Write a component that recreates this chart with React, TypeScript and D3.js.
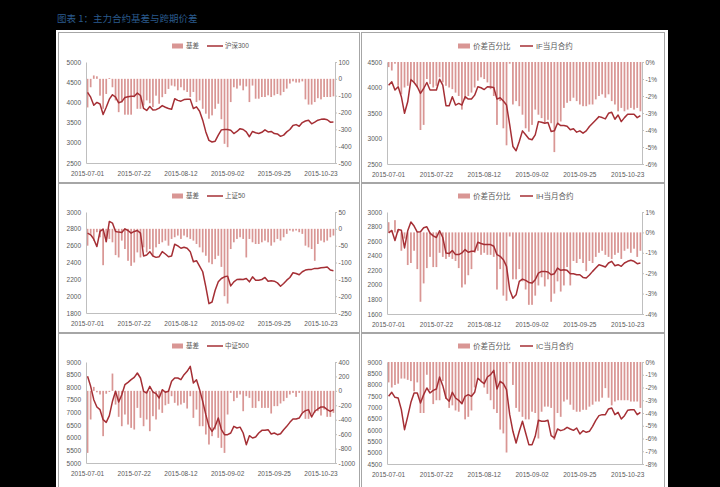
import React, { useEffect, useRef } from "react";
import * as d3 from "d3";

// trading days, 2015-07-01 .. 2015-10-29
const dates = [
  "2015-07-01", "2015-07-02", "2015-07-03", "2015-07-06", "2015-07-07", "2015-07-08", "2015-07-09", "2015-07-10",
  "2015-07-13", "2015-07-14", "2015-07-15", "2015-07-16", "2015-07-17", "2015-07-20", "2015-07-21", "2015-07-22",
  "2015-07-23", "2015-07-24", "2015-07-27", "2015-07-28", "2015-07-29", "2015-07-30", "2015-07-31",
  "2015-08-03", "2015-08-04", "2015-08-05", "2015-08-06", "2015-08-07", "2015-08-10", "2015-08-11", "2015-08-12",
  "2015-08-13", "2015-08-14", "2015-08-17", "2015-08-18", "2015-08-19", "2015-08-20", "2015-08-21", "2015-08-24",
  "2015-08-25", "2015-08-26", "2015-08-27", "2015-08-28", "2015-08-31", "2015-09-01", "2015-09-02",
  "2015-09-07", "2015-09-08", "2015-09-09", "2015-09-10", "2015-09-11", "2015-09-14", "2015-09-15", "2015-09-16",
  "2015-09-17", "2015-09-18", "2015-09-21", "2015-09-22", "2015-09-23", "2015-09-24", "2015-09-25",
  "2015-09-28", "2015-09-29", "2015-09-30", "2015-10-08", "2015-10-09", "2015-10-12", "2015-10-13", "2015-10-14",
  "2015-10-15", "2015-10-16", "2015-10-19", "2015-10-20", "2015-10-21", "2015-10-22", "2015-10-23",
  "2015-10-26", "2015-10-27", "2015-10-28", "2015-10-29",
];

const hs300 = [
  4250, 4130, 3930, 4000, 3960, 3700, 3880, 4080, 4190, 4130,
  3990, 4020, 4120, 4140, 4150, 4150, 4230, 4170, 3850, 3800,
  3900, 3810, 3820, 3860, 3920, 3880, 3850, 3830, 4090, 4050,
  4030, 4070, 4080, 4075, 3850, 3890, 3780, 3560, 3270, 3060,
  3020, 3040, 3190, 3320, 3330, 3330, 3310, 3230, 3280, 3350,
  3330, 3270, 3150, 3280, 3250, 3230, 3260, 3320, 3270, 3280,
  3230, 3220, 3160, 3190, 3270, 3330, 3430, 3450, 3410, 3500,
  3540, 3560, 3470, 3510, 3560, 3580, 3590, 3570, 3510, 3515,
];
const hs300Basis = [
  -170, -50, 20, 15, -100, -178, -90, 5, -50, -128,
  -198, -140, -213, -213, -213, -110, -178, -178, -158, -128,
  -145, -168, -100, -148, -109, -90, -60, -40, -45, -68,
  -50, -68, -78, -108, -78, -138, -128, -178, -207, -237,
  -217, -178, -148, -240, -386, -406, -138, -50, -58, -40,
  -68, -45, -138, -40, -118, -118, -108, -108, -98, -108,
  -98, -90, -98, -78, -58, -28, -15, -22, -22, -15,
  -122, -153, -153, -138, -115, -122, -108, -108, -108, -104,
];

const ifMonth = [
  4046, 4110, 3950, 4015, 3820, 3494, 3720, 4156, 4098, 4015,
  3884, 3980, 4098, 3950, 3950, 3950, 4163, 4046, 3643, 3643,
  3820, 3656, 3688, 3656, 3820, 3773, 3773, 3850, 4015, 3995,
  3960, 4015, 4010, 4000, 3773, 3800, 3734, 3656, 3266, 2844,
  2760, 2942, 3150, 3072, 2994, 2975, 3072, 3331, 3318, 3300,
  3313, 3137, 3150, 3300, 3254, 3254, 3241, 3170, 3190, 3124,
  3150, 3105, 3150, 3235, 3300, 3364, 3429, 3410, 3384, 3494,
  3513, 3377, 3461, 3331, 3409, 3474, 3474, 3474, 3409, 3448,
];
const ifSpread = [
  -0.3, -0.5, -0.1, -1.4, -1.9, -1.5, -1.4, -1.0, -1.2, -1.5,
  -4.0, -3.7, -1.0, -1.3, -1.5, -1.4, -0.9, -1.2, -1.4, -1.5,
  -1.6, -1.8, -2.0, -2.8, -2.2, -2.0, -1.8, -1.5, -1.1, -0.9,
  -1.0, -1.2, -1.6, -2.0, -3.7, -2.3, -3.9, -4.9, -0.1, -2.5,
  -2.3, -2.6, -3.1, -3.9, -4.1, -3.7, -2.8, -3.1, -3.3, -3.6,
  -3.4, -3.6, -5.3, -3.6, -3.5, -2.7, -2.4, -2.3, -2.1, -2.3,
  -2.5, -2.6, -2.6, -2.5, -2.5, -2.2, -2.0, -1.9, -2.1, -1.9,
  -2.3, -2.5, -2.9, -2.7, -2.9, -2.8, -2.7, -2.8, -2.7, -2.9,
];

const sz50 = [
  2749, 2729, 2677, 2589, 2769, 2797, 2649, 2888, 2868, 2769,
  2761, 2757, 2800, 2780, 2749, 2769, 2780, 2749, 2477, 2489,
  2529, 2477, 2461, 2469, 2529, 2501, 2469, 2477, 2617, 2597,
  2569, 2581, 2569, 2529, 2409, 2421, 2358, 2290, 2110, 1911,
  1931, 2070, 2170, 2210, 2230, 2238, 2122, 2170, 2198, 2202,
  2198, 2210, 2170, 2230, 2190, 2190, 2198, 2222, 2178, 2182,
  2178, 2158, 2118, 2150, 2190, 2222, 2278, 2270, 2254, 2290,
  2310, 2318, 2318, 2330, 2330, 2338, 2342, 2346, 2310, 2302,
];
const sz50Basis = [
  -50, -15, -35, -10, -25, -108, -40, -30, -40, -78,
  -85, -35, -60, -95, -110, -100, -70, -85, -55, -70,
  -60, -80, -55, -45, -40, -35, -50, -30, -25, -20,
  -30, -20, -25, -30, -35, -45, -55, -70, -80, -100,
  -105, -90, -80, -113, -200, -222, -60, -40, -30, -25,
  -30, -85, -30, -40, -45, -45, -40, -35, -40, -50,
  -40, -30, -35, -25, -15, -5, -8, -5, -10, -15,
  -50, -55, -60, -95, -45, -35, -40, -35, -25, -20,
];

const ihMonth = [
  2714, 2747, 2609, 2760, 2751, 2507, 2742, 2862, 2807, 2724,
  2728, 2783, 2797, 2710, 2673, 2650, 2742, 2650, 2438, 2429,
  2471, 2415, 2415, 2438, 2484, 2447, 2461, 2461, 2585, 2567,
  2553, 2553, 2553, 2530, 2415, 2392, 2346, 2254, 1932, 1817,
  1863, 2047, 2079, 2061, 2033, 2024, 2070, 2162, 2185, 2185,
  2176, 2139, 2153, 2231, 2199, 2208, 2199, 2153, 2153, 2139,
  2139, 2102, 2093, 2135, 2185, 2231, 2277, 2263, 2245, 2300,
  2323, 2263, 2277, 2254, 2300, 2323, 2337, 2323, 2291, 2300,
];
const ihSpread = [
  0.5, 0.1, 0.6, 0.1, -0.9, -0.3, -1.6, -1.5, -0.9, -1.8,
  -3.4, -2.5, -1.75, -1.2, -1.7, -1.7, -1.0, -1.2, -1.3, -1.2,
  -1.3, -1.4, -1.75, -2.7, -2.55, -2.1, -1.8, -1.0, -0.9, -1.1,
  -1.0, -1.1, -1.1, -1.2, -2.8, -1.8, -3.1, -3.35, -0.2, -2.3,
  -2.3, -1.8, -2.4, -2.8, -3.55, -3.55, -3.1, -2.6, -2.2, -2.65,
  -2.3, -3.4, -3.0, -2.4, -2.9, -2.6, -1.7, -2.6, -1.4, -1.5,
  -1.3, -1.5, -1.9, -1.4, -1.5, -1.2, -1.0, -0.9, -1.1, -1.2,
  -1.3, -1.1, -1.0, -1.3, -0.9, -0.8, -1.0, -0.8, -1.2, -0.9,
];

const zz500 = [
  8432, 8036, 7508, 7218, 7112, 6716, 6610, 6875, 7442, 7838,
  7416, 7706, 8102, 8195, 8300, 8393, 8564, 8366, 7838, 7772,
  8036, 7812, 7746, 7574, 7904, 7800, 7838, 8234, 8366, 8366,
  8300, 8498, 8630, 8828, 8168, 8300, 7904, 7442, 6914, 6452,
  6254, 6452, 6782, 6320, 6122, 6122, 6188, 6452, 6386, 6420,
  6188, 5726, 6082, 5990, 6030, 6188, 6294, 6294, 6320, 6150,
  6188, 6122, 6160, 6320, 6452, 6610, 6743, 6743, 6780, 6980,
  7073, 7112, 6822, 7050, 7139, 7218, 7218, 7112, 7046, 7112,
];
const zz500Basis = [
  -860, -397, 55, -20, -50, -628, -40, -15, 240, -190,
  -360, -490, -328, -467, -513, -536, -236, -374, -490, -397,
  -559, -351, -397, -259, -305, -200, -180, -74, -166, -203,
  -189, -166, -245, -74, -374, -259, -490, -490, -605, -744,
  -628, -536, -651, -790, -860, -328, -28, -143, -97, -50,
  -282, -74, -97, -236, -236, -143, -236, -236, -236, -314,
  -212, -212, -175, -143, -97, -50, -28, -83, -28, -297,
  -388, -388, -328, -305, -282, -342, -259, -360, -360, -305,
];

const icMonth = [
  7486, 7662, 7442, 7412, 6898, 6016, 6604, 7221, 7633, 7633,
  7192, 7560, 7853, 7633, 7750, 7809, 8339, 7956, 7412, 7265,
  7662, 7412, 7310, 7162, 7486, 7560, 7486, 7662, 8294, 8147,
  8045, 8339, 8441, 8632, 7809, 8147, 8045, 7780, 6677, 5942,
  5428, 5942, 6383, 5868, 5354, 5354, 5722, 6427, 6383, 6383,
  6427, 5751, 5648, 6045, 5971, 6016, 6119, 6045, 5986, 6089,
  5825, 5971, 5898, 5942, 6163, 6427, 6633, 6677, 6677, 6927,
  6971, 6677, 6780, 6486, 6633, 6869, 6898, 6898, 6677, 6780,
];
const icSpread = [
  -1.6, -2.0, -1.8, -1.7, -1.3, -1.3, -1.4, -1.5, -2.3, -1.6,
  -4.0, -4.0, -1.0, -2.2, -3.3, -3.0, -3.0, -1.5, -2.9, -3.6,
  -3.4, -3.8, -3.9, -3.3, -4.5, -4.3, -3.8, -2.0, -1.2, -1.5,
  -2.0, -2.5, -3.0, -3.7, -4.0, -5.3, -5.6, -7.1, -0.1, -1.8,
  -3.6, -3.9, -4.3, -4.5, -4.5, -3.9, -4.0, -6.0, -3.9, -3.5,
  -3.5, -3.6, -6.1, -4.0, -4.3, -3.1, -2.95, -3.35, -3.75, -3.9,
  -3.9, -3.75, -3.75, -3.5, -3.35, -3.1, -3.1, -2.8, -2.05, -2.8,
  -3.4, -3.1, -3.0, -3.0, -3.0, -3.0, -3.1, -3.1, -3.1, -3.6,
];

const panels = [
  { col: 0, row: 0, barName: "基差", lineName: "沪深300", bars: hs300Basis, line: hs300, left: [2500, 5000, 500], right: [-500, 100, 100], pct: false },
  { col: 1, row: 0, barName: "价差百分比", lineName: "IF当月合约", bars: ifSpread, line: ifMonth, left: [2500, 4500, 500], right: [-6, 0, 1], pct: true },
  { col: 0, row: 1, barName: "基差", lineName: "上证50", bars: sz50Basis, line: sz50, left: [1800, 3000, 200], right: [-250, 50, 50], pct: false },
  { col: 1, row: 1, barName: "价差百分比", lineName: "IH当月合约", bars: ihSpread, line: ihMonth, left: [1600, 3000, 200], right: [-4, 1, 1], pct: true },
  { col: 0, row: 2, barName: "基差", lineName: "中证500", bars: zz500Basis, line: zz500, left: [5000, 9000, 500], right: [-1000, 400, 200], pct: false },
  { col: 1, row: 2, barName: "价差百分比", lineName: "IC当月合约", bars: icSpread, line: icMonth, left: [4500, 9000, 500], right: [-8, 0, 1], pct: true },
];

const COLS = [
  { x0: 86, x1: 335, legend: [172, 183, 186, 207, 223, 225], legendSize: 6.5 },
  { x0: 387, x1: 642, legend: [458, 470, 473, 520, 533, 536], legendSize: 7.5 },
];
const ROWS = [
  { top: 62, bottom: 163, legendY: 46 },
  { top: 212, bottom: 313, legendY: 196 },
  { top: 362, bottom: 463, legendY: 346 },
];

const BAR = "#d99694";
const LINE = "#a52f35";
const TEXT = "#595959";
const AXIS = "#bfbfbf";
const FONT = "'Liberation Sans', Arial, 'Noto Sans CJK SC', sans-serif";

function drawPanel(svg: any, p: any) {
  const c = COLS[p.col];
  const r = ROWS[p.row];
  const top = r.top;
  const bottom = r.bottom + p.col;
  const n = dates.length;

  const x = d3.scaleBand<number>()
    .domain(d3.range(n))
    .range([c.x0, c.x1])
    .paddingInner(0.45)
    .paddingOuter(0.225);
  const bw = x.bandwidth();

  const [lmin, lmax, lstep] = p.left;
  const [rmin, rmax, rstep] = p.right;
  const yL = d3.scaleLinear().domain([lmin, lmax]).range([bottom, top]);
  const yR = d3.scaleLinear().domain([rmin, rmax]).range([bottom, top]);

  const g = svg.append("g");

  // bars on secondary axis
  g.append("g")
    .selectAll("rect")
    .data(p.bars)
    .join("rect")
    .attr("x", (_d: number, i: number) => x(i))
    .attr("y", (d: number) => Math.min(yR(0), yR(d)))
    .attr("width", bw)
    .attr("height", (d: number) => Math.abs(yR(d) - yR(0)))
    .attr("fill", BAR);

  // axes (plain hyphen minus, no thousands separator, like the source)
  const left = g.append("g")
    .attr("transform", `translate(${c.x0},0)`)
    .call(d3.axisLeft(yL)
      .tickValues(d3.range(lmin, lmax + lstep / 2, lstep))
      .tickFormat((d: any) => String(d))
      .tickSize(0)
      .tickPadding(5));

  const right = g.append("g")
    .attr("transform", `translate(${c.x1},0)`)
    .call(d3.axisRight(yR)
      .tickValues(d3.range(rmin, rmax + rstep / 2, rstep))
      .tickFormat((d: any) => (p.pct ? `${d}%` : `${d}`))
      .tickSize(2)
      .tickSizeOuter(2)
      .tickPadding(1.5));

  const bottomAx = g.append("g")
    .attr("transform", `translate(0,${bottom})`)
    .call(d3.axisBottom(x)
      .tickValues(d3.range(0, n, 15))
      .tickFormat((i: number) => dates[i])
      .tickSize(0)
      .tickPadding(8.5));

  [left, right, bottomAx].forEach((a: any) => {
    a.select(".domain").attr("stroke", AXIS);
    a.selectAll(".tick line").attr("stroke", AXIS);
    a.selectAll("text")
      .attr("fill", TEXT)
      .style("font-family", FONT)
      .style("font-size", "6.5px");
  });

  // index line on primary axis
  const line = d3.line<number>()
    .x((_d, i) => (x(i) as number) + bw / 2)
    .y((d) => yL(d));

  g.append("path")
    .datum(p.line)
    .attr("fill", "none")
    .attr("stroke", LINE)
    .attr("stroke-width", 1.5)
    .attr("stroke-linejoin", "round")
    .attr("d", line);

  // legend
  const [sx0, sx1, t1, lx0, lx1, t2] = c.legend;
  const ly = r.legendY;
  g.append("rect")
    .attr("x", sx0)
    .attr("y", ly - 2.5)
    .attr("width", sx1 - sx0)
    .attr("height", 5)
    .attr("fill", BAR);
  g.append("text")
    .attr("x", t1)
    .attr("y", ly)
    .attr("dy", "0.35em")
    .attr("fill", TEXT)
    .style("font-family", FONT)
    .style("font-size", `${c.legendSize}px`)
    .text(p.barName);
  g.append("line")
    .attr("x1", lx0)
    .attr("x2", lx1)
    .attr("y1", ly)
    .attr("y2", ly)
    .attr("stroke", LINE)
    .attr("stroke-width", 1.5);
  g.append("text")
    .attr("x", t2)
    .attr("y", ly)
    .attr("dy", "0.35em")
    .attr("fill", TEXT)
    .style("font-family", FONT)
    .style("font-size", `${c.legendSize}px`)
    .text(p.lineName);
}

export default function App() {
  const svgRef = useRef<SVGSVGElement>(null);

  useEffect(() => {
    document.body.style.margin = "0";
    document.body.style.background = "#000";

    const svg = d3.select(svgRef.current);
    svg.selectAll("*").remove();

    svg.append("rect").attr("width", 720).attr("height", 487).attr("fill", "#000");

    svg.append("text")
      .attr("x", 57)
      .attr("y", 21.5)
      .attr("fill", "#2a5a8c")
      .style("font-family", "'Noto Sans CJK SC', sans-serif")
      .style("font-size", "9.5px")
      .text("图表 1：主力合约基差与跨期价差");

    svg.append("rect")
      .attr("x", 56)
      .attr("y", 30)
      .attr("width", 612)
      .attr("height", 470)
      .attr("fill", "#fff");

    // cell frames
    const cellX = [[58.5, 301], [361.5, 303]];
    const cellY = [[32.5, 150], [183.5, 149], [333.5, 170]];
    cellY.forEach(([y, h]) => {
      cellX.forEach(([cx, w]) => {
        svg.append("rect")
          .attr("x", cx)
          .attr("y", y)
          .attr("width", w)
          .attr("height", h)
          .attr("fill", "none")
          .attr("stroke", "#a6a6a6")
          .attr("stroke-width", 1);
      });
    });

    panels.forEach((p) => drawPanel(svg, p));
  }, []);

  return <svg ref={svgRef} width={720} height={487} style={{ display: "block" }} />;
}
